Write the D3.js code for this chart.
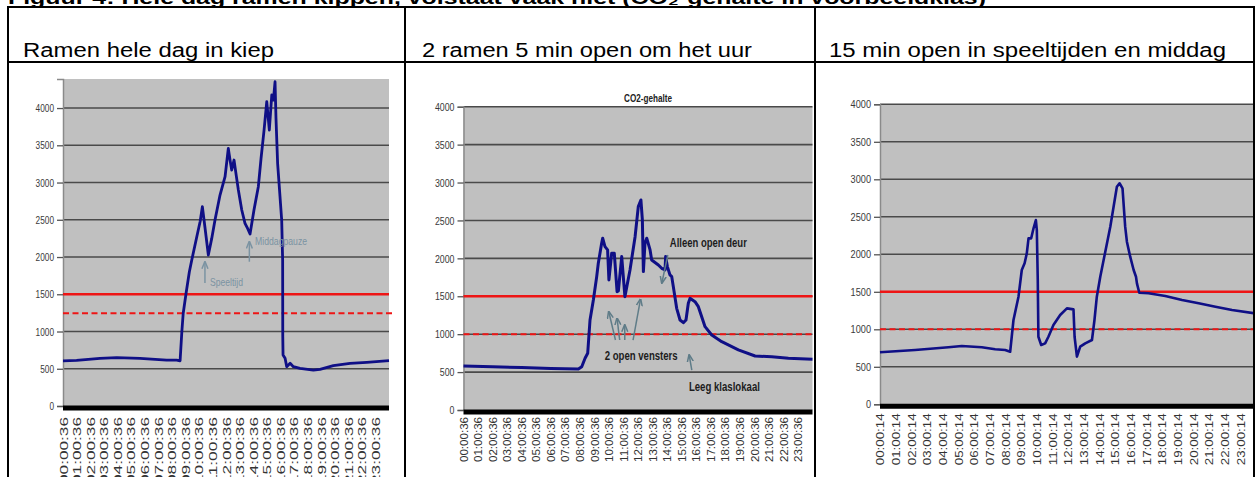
<!DOCTYPE html>
<html>
<head>
<meta charset="utf-8">
<script src="https://d3js.org/d3.v7.min.js"></script>
<style>
body{margin:0;background:#fff;}
svg{display:block;font-family:"Liberation Sans",Arial,sans-serif;}
</style>
</head>
<body>
<div id="chart"></div>
<script>
// tick labels
var hourLabels = ['00','01','02','03','04','05','06','07','08','09','10','11',
	'12','13','14','15','16','17','18','19','20','21','22','23'];
var yTicks = [0, 500, 1000, 1500, 2000, 2500, 3000, 3500, 4000];

var headers = ['Ramen hele dag in kiep', '2 ramen 5 min open om het uur', '15 min open in speeltijden en middag'];
var figTitle = 'Figuur 4: Hele dag ramen kippen, volstaat vaak niet (CO\u2082-gehalte in voorbeeldklas)';

// panel 1 - ramen hele dag in kiep (hour of day, ppm)
var hours1 = [0, 1, 2.72, 3.95, 5.67, 7.63, 8.37, 8.62, 8.75, 8.85, 9.05, 9.3, 9.48, 9.85, 10.1, 10.26,
	10.45, 10.7, 10.95, 11.19, 11.56, 11.93, 12.17, 12.3, 12.42, 12.59, 12.75, 12.91, 13.16, 13.4,
	13.6, 13.77, 14.06, 14.38, 14.58, 14.8, 15.0, 15.19, 15.37, 15.49, 15.61, 15.68, 15.8, 16.1,
	16.17, 16.18, 16.2, 16.35, 16.47, 16.72, 16.96, 17.45, 18.43, 18.92, 19.9, 21.13, 22.36, 24];
var co2_1 = [607, 612, 640, 649, 640, 617, 617, 607, 1000, 1245, 1500, 1800, 1960, 2273, 2480, 2675,
	2400, 2027, 2250, 2497, 2832, 3078, 3459, 3300, 3168, 3302, 3100, 2899, 2631, 2452,
	2380, 2309, 2631, 2944, 3324, 3700, 4085, 3705, 4175, 4107, 4353, 3862, 3258, 2497,
	1960, 930, 685, 640, 528, 573, 528, 506, 483, 492, 541, 573, 586, 608];

// panel 2 - 2 ramen 5 min open om het uur
var hours2 = [0, 2, 4, 6, 7.9, 8.13, 8.36, 8.54, 8.7, 8.93, 9.16, 9.27, 9.5, 9.57, 9.73, 9.91, 10.0,
	10.19, 10.37, 10.56, 10.65, 10.88, 11.1, 11.45, 11.8, 12.02, 12.2, 12.3, 12.37, 12.48, 12.6,
	12.83, 12.94, 13.4, 13.63, 13.86, 13.9, 14.02, 14.2, 14.32, 14.5, 14.66, 14.89, 15.12, 15.3,
	15.46, 15.58, 15.92, 16.15, 16.61, 17.07, 17.76, 18.9, 20.05, 21.2, 22.34, 24];
var co2_2 = [580, 570, 560, 548, 541, 571, 682, 748, 1187, 1451, 1759, 1935, 2199, 2265, 2154, 2111, 1715,
	2067, 2067, 1561, 1570, 2023, 1495, 1847, 2286, 2682, 2770, 2507, 1825, 2199, 2265,
	2111, 1979, 1913, 1869, 1847, 2023, 1891, 1781, 1759, 1540, 1341, 1187, 1152, 1187,
	1408, 1473, 1429, 1363, 1099, 989, 901, 792, 712, 703, 682, 669];

// panel 3 - 15 min open in speeltijden en middag
var hours3 = [0, 2.24, 4.37, 5.22, 6.5, 7.35, 7.99, 8.31, 8.52, 8.84, 9.05, 9.23, 9.37, 9.48, 9.65, 9.8,
	9.95, 10.01, 10.07, 10.11, 10.29, 10.54, 10.75, 11.07, 11.5, 11.93, 12.35, 12.42, 12.57, 12.78,
	13.1, 13.53, 13.69, 13.84, 14.06, 14.38, 14.7, 14.91, 15.12, 15.29, 15.48, 15.65, 15.76, 15.97,
	16.19, 16.34, 16.4, 16.55, 17.14, 18.21, 19.28, 20.34, 21.41, 22.47, 24];
var co2_3 = [695, 724, 760, 777, 760, 733, 724, 701, 1124, 1435, 1791, 1880, 2013, 2213, 2213, 2347,
	2457, 2324, 1657, 901, 791, 813, 901, 1057, 1191, 1279, 1266, 901, 635, 768,
	813, 857, 1124, 1435, 1701, 2035, 2368, 2635, 2901, 2947, 2880, 2368, 2168, 1968,
	1791, 1701, 1613, 1488, 1480, 1444, 1391, 1347, 1301, 1257, 1210];

// annotations: [text, hour, ppm, width]
var notes1 = [['Speeltijd', 10.82, 1617, 33], ['Middagpauze', 14.14, 2161, 52]];
var arrows1 = [[10.45, 1651, 10.45, 1933], [13.72, 1937, 13.72, 2205]];
var notes2 = [['Alleen open deur', 14.19, 2153, 77], ['2 open vensters', 9.71, 659, 73], ['Leeg klaslokaal', 15.5, 251, 71]];
var arrows2 = [[14.05, 2044, 13.64, 1675], [10.45, 923, 9.99, 1296], [10.74, 923, 10.56, 1209],
	[11.09, 923, 11.09, 1121], [11.66, 923, 12.17, 1460], [15.7, 527, 15.52, 725]];

var width = 1255, height = 477;
var svg = d3.select('#chart').append('svg')
	.attr('width', width)
	.attr('height', height);

svg.append('rect').attr('width', width).attr('height', height).attr('fill', '#fff');

var defs = svg.append('defs');
['#7b93a2', '#5f7c88'].forEach(function(c, i){
	defs.append('marker')
		.attr('id', 'arr' + i)
		.attr('viewBox', '0 0 10 10')
		.attr('refX', 9).attr('refY', 5)
		.attr('markerWidth', 5).attr('markerHeight', 5)
		.attr('orient', 'auto')
		.append('path')
		.attr('d', 'M0,1 L10,5 L0,9')
		.attr('fill', 'none')
		.attr('stroke', c)
		.attr('stroke-width', 2);
});

function drawPanel(p){
	var x = d3.scaleLinear().domain([0, 24]).range([p.left, p.right]);
	var y = d3.scaleLinear().domain([0, p.yMax]).range([p.bottom, p.top]);
	var g = svg.append('g');

	g.append('rect')
		.attr('x', p.left).attr('y', p.top)
		.attr('width', p.right - p.left).attr('height', p.bottom - p.top)
		.attr('fill', '#c0c0c0');

	g.selectAll('.grid')
		.data(yTicks.slice(1))
		.enter().append('line')
		.attr('class', 'grid')
		.attr('x1', p.left).attr('x2', p.right)
		.attr('y1', y).attr('y2', y)
		.attr('stroke', '#4a4a4a')
		.attr('stroke-width', 1.6);

	var ya = g.append('g')
		.attr('transform', 'translate(' + p.left + ',0)')
		.call(d3.axisLeft(y).tickValues(yTicks).tickFormat(d3.format('d'))
			.tickSize(6).tickPadding(3));
	ya.select('.domain').attr('stroke', '#8a8a8a').attr('stroke-width', 1.5);
	ya.selectAll('.tick line').attr('stroke', '#555').attr('stroke-width', 1.3);
	ya.selectAll('text')
		.attr('font-size', 11.5)
		.attr('font-family', '"Liberation Sans",Arial,sans-serif')
		.attr('fill', '#3a3a3a')
		.attr('textLength', function(d){ return String(d).length * p.digitW; })
		.attr('lengthAdjust', 'spacingAndGlyphs');

	// limits
	g.append('line')
		.attr('x1', p.left).attr('x2', p.right)
		.attr('y1', y(1500)).attr('y2', y(1500))
		.attr('stroke', '#ee1515').attr('stroke-width', 2.4);
	g.append('line')
		.attr('x1', p.left).attr('x2', p.dashEnd)
		.attr('y1', y(p.dashed)).attr('y2', y(p.dashed))
		.attr('stroke', '#ee1515').attr('stroke-width', 2)
		.attr('stroke-dasharray', '6,3.5');

	var line = d3.line()
		.x(function(d){ return x(d[0]); })
		.y(function(d){ return y(d[1]); });
	g.append('path')
		.datum(d3.zip(p.hours, p.values))
		.attr('d', line)
		.attr('fill', 'none')
		.attr('stroke', '#0f0f86')
		.attr('stroke-width', p.lineW)
		.attr('stroke-linejoin', 'round');

	// thick zero line
	g.append('line')
		.attr('x1', p.left).attr('x2', p.right)
		.attr('y1', y(0) + 2).attr('y2', y(0) + 2)
		.attr('stroke', '#000').attr('stroke-width', 5);

	var xa = g.append('g')
		.attr('transform', 'translate(0,' + p.bottom + ')')
		.call(d3.axisBottom(x).tickValues(d3.range(24))
			.tickFormat(function(i){ return hourLabels[i] + p.suffix; })
			.tickSize(0));
	xa.select('.domain').remove();
	xa.selectAll('text')
		.attr('transform', 'rotate(-90)')
		.attr('x', -p.labelOffset)
		.attr('y', 0)
		.attr('dy', '0.35em')
		.attr('text-anchor', 'end')
		.attr('font-size', p.labelSize)
		.attr('font-family', '"Liberation Sans",Arial,sans-serif')
		.attr('fill', '#333')
		.attr('textLength', p.labelLen)
		.attr('lengthAdjust', 'spacingAndGlyphs');

	p.arrows.forEach(function(a){
		g.append('line')
			.attr('x1', x(a[0])).attr('y1', y(a[1]))
			.attr('x2', x(a[2])).attr('y2', y(a[3]))
			.attr('stroke', p.noteArrow).attr('stroke-width', 1.5)
			.attr('marker-end', 'url(#' + p.marker + ')');
	});
	p.notes.forEach(function(n){
		g.append('text')
			.attr('x', x(n[1])).attr('y', y(n[2]))
			.attr('font-size', p.noteSize)
			.attr('font-weight', p.noteWeight)
			.attr('fill', p.noteColor)
			.attr('textLength', n[3])
			.attr('lengthAdjust', 'spacingAndGlyphs')
			.text(n[0]);
	});
	return g;
}

drawPanel({left: 63, right: 389, top: 79, bottom: 406, yMax: 4390,
	hours: hours1, values: co2_1, dashed: 1245, dashEnd: 395, lineW: 2.8,
	suffix: ':00:36', labelOffset: 11, labelSize: 11.5, labelLen: 67, digitW: 4.6,
	notes: notes1, arrows: arrows1, noteSize: 11, noteWeight: 'normal',
	noteColor: '#7b93a2', noteArrow: '#7b93a2', marker: 'arr0'});

var p2 = drawPanel({left: 463.5, right: 812.5, top: 106.7, bottom: 410, yMax: 4000,
	hours: hours2, values: co2_2, dashed: 1000, dashEnd: 812.5, lineW: 3,
	suffix: ':00:36', labelOffset: 7, labelSize: 10.5, labelLen: 45, digitW: 4.9,
	notes: notes2, arrows: arrows2, noteSize: 12, noteWeight: 'bold',
	noteColor: '#1c1c1c', noteArrow: '#5f7c88', marker: 'arr1'});
p2.append('text')
	.attr('x', 648).attr('y', 101.5)
	.attr('text-anchor', 'middle')
	.attr('font-size', 10)
	.attr('font-weight', 'bold')
	.attr('fill', '#222')
	.attr('textLength', 48)
	.attr('lengthAdjust', 'spacingAndGlyphs')
	.text('CO2-gehalte');

drawPanel({left: 880, right: 1256, top: 104.3, bottom: 404.3, yMax: 4000,
	hours: hours3, values: co2_3, dashed: 1000, dashEnd: 1256, lineW: 2.6,
	suffix: ':00:14', labelOffset: 9, labelSize: 11, labelLen: 52, digitW: 5.1,
	notes: [], arrows: [], noteSize: 11, noteWeight: 'normal',
	noteColor: '#333', noteArrow: '#333', marker: 'arr1'});

// table around the panels
var table = svg.append('g').attr('stroke', '#000').attr('stroke-width', 2);
[7, 62].forEach(function(yy){
	table.append('line').attr('x1', 7).attr('x2', 1255).attr('y1', yy).attr('y2', yy);
});
[8, 405, 815, 1254].forEach(function(xx){
	table.append('line').attr('x1', xx).attr('x2', xx).attr('y1', 6).attr('y2', height);
});

var headX = [23, 422, 829];
var headW = [251, 330, 397];
svg.selectAll('.head')
	.data(headers)
	.enter().append('text')
	.attr('class', 'head')
	.attr('x', function(d, i){ return headX[i]; })
	.attr('y', 56.5)
	.attr('font-size', 19.5)
	.attr('fill', '#000')
	.attr('textLength', function(d, i){ return headW[i]; })
	.attr('lengthAdjust', 'spacingAndGlyphs')
	.text(function(d){ return d; });

// figure caption, cut off at the top of the picture
svg.append('text')
	.attr('x', 8).attr('y', 4)
	.attr('font-size', 18)
	.attr('font-weight', 'bold')
	.attr('fill', '#000')
	.attr('textLength', 978)
	.attr('lengthAdjust', 'spacingAndGlyphs')
	.text(figTitle);
</script>
</body>
</html>
